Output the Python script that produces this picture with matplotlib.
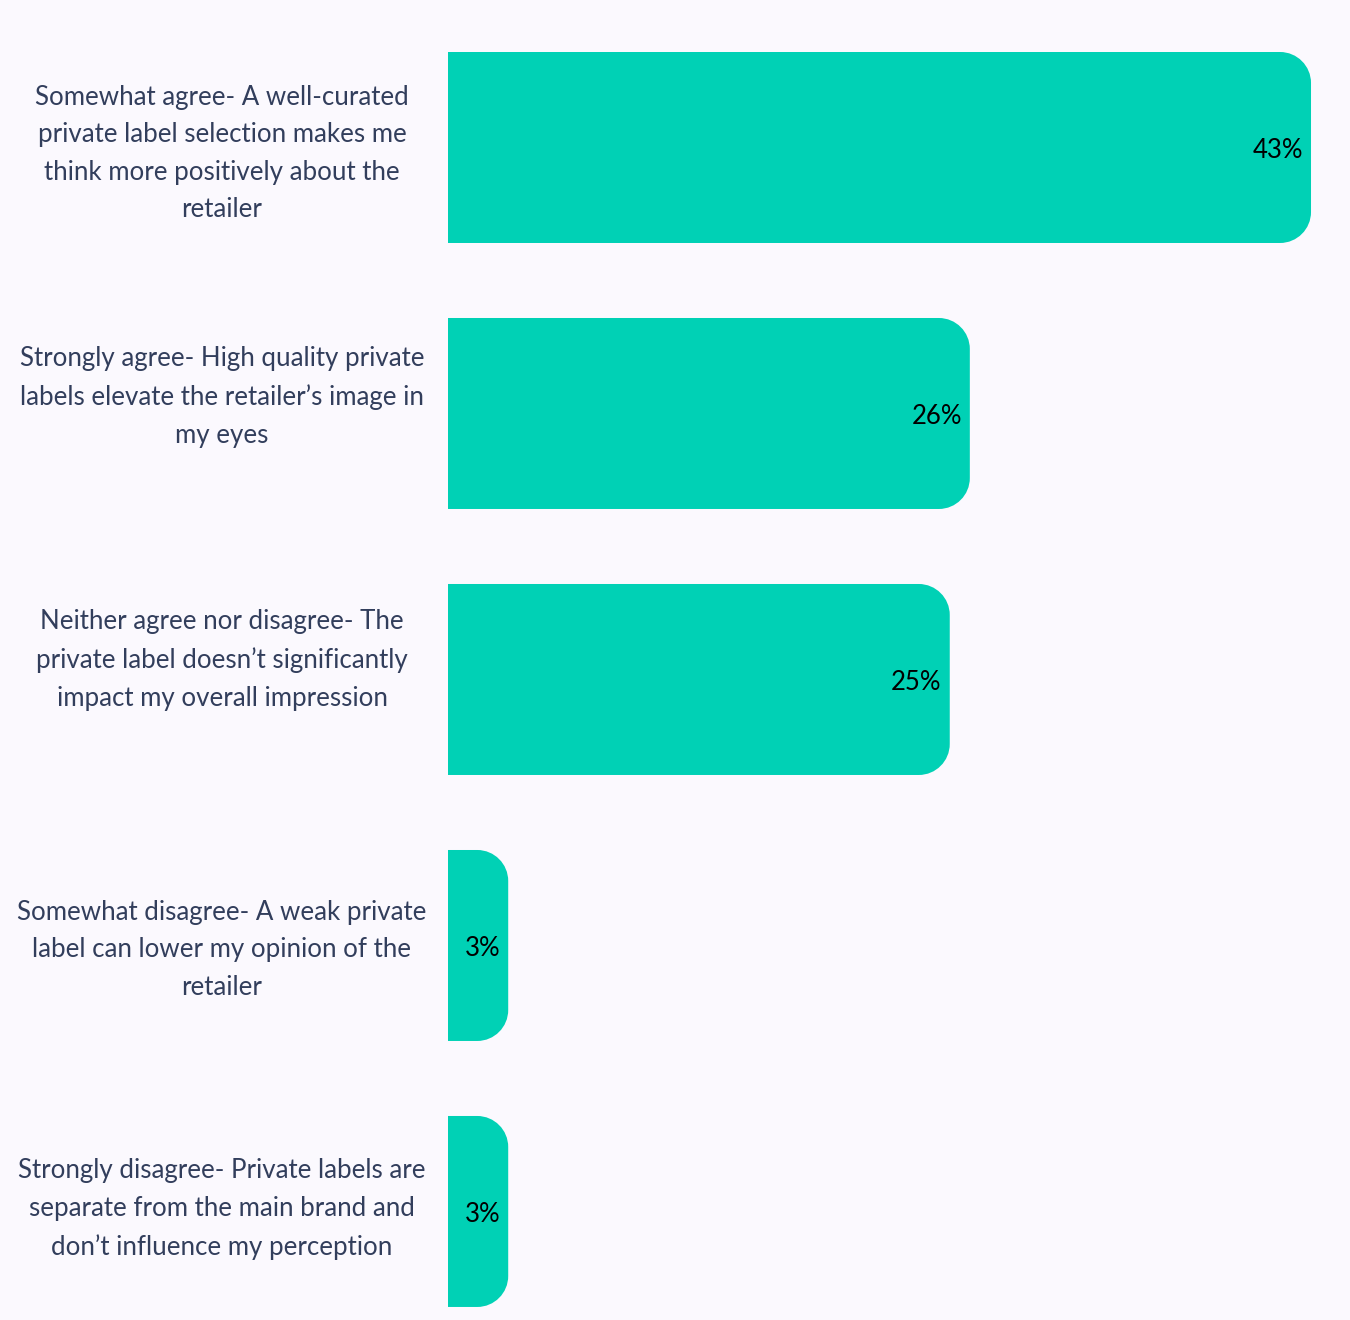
import matplotlib
matplotlib.use('Agg')
import matplotlib.pyplot as plt
from matplotlib.path import Path
from matplotlib.patches import PathPatch

# Data
categories = [
    'Somewhat agree- A well-curated\nprivate label selection makes me\nthink more positively about the\nretailer',
    'Strongly agree- High quality private\nlabels elevate the retailer\u2019s image in\nmy eyes',
    'Neither agree nor disagree- The\nprivate label doesn\u2019t significantly\nimpact my overall impression',
    'Somewhat disagree- A weak private\nlabel can lower my opinion of the\nretailer',
    'Strongly disagree- Private labels are\nseparate from the main brand and\ndon\u2019t influence my perception',
]
values = [43, 26, 25, 3, 3]
value_labels = ['43%', '26%', '25%', '3%', '3%']

# vertical nudge of each category label, in pixels (up is positive)
label_nudge = [-6, 16.5, 19.5, -4.5, 2.5]

bg = '#FBF9FE'
bar_color = '#00D1B5'
text_color = '#323E5C'

plt.rcParams['font.family'] = ['Lato', 'DejaVu Sans']

fig = plt.figure(figsize=(13.5, 13.2), dpi=100, facecolor=bg)
ax = fig.add_axes([448 / 1350, 0, 1 - 448 / 1350, 1])
ax.set_facecolor(bg)

px_per_unit = 20.07
ax.set_xlim(0, (1350 - 448) / px_per_unit)
ax.set_ylim(4.408, -0.5545)
ax.axis('off')

bar_h = 0.718
radius_px = 31
rx = radius_px / px_per_unit
ry = radius_px / 266

# Bars with rounded right corners
k = 0.5523
for i, v in enumerate(values):
    y0 = i - bar_h / 2
    y1 = i + bar_h / 2
    verts = [
        (0, y0),
        (v - rx, y0),
        (v - rx + k * rx, y0), (v, y0 + ry - k * ry), (v, y0 + ry),
        (v, y1 - ry),
        (v, y1 - ry + k * ry), (v - rx + k * rx, y1), (v - rx, y1),
        (0, y1),
        (0, y0),
    ]
    codes = [Path.MOVETO, Path.LINETO,
             Path.CURVE4, Path.CURVE4, Path.CURVE4,
             Path.LINETO,
             Path.CURVE4, Path.CURVE4, Path.CURVE4,
             Path.LINETO, Path.CLOSEPOLY]
    ax.add_patch(PathPatch(Path(verts, codes), facecolor=bar_color, edgecolor='none'))
    ax.annotate(value_labels[i], xy=(v, i), xytext=(-8, -3), textcoords='offset pixels',
                ha='right', va='center', fontsize=18.5, color='black')

# Category labels
for i, cat in enumerate(categories):
    ax.annotate(cat, xy=(0, i), xycoords='data', xytext=(222 - 448, label_nudge[i]),
                textcoords='offset pixels', ha='center', va='center',
                fontsize=18.6, color=text_color, linespacing=1.62)

plt.savefig('out.png', dpi=100, facecolor=bg)
